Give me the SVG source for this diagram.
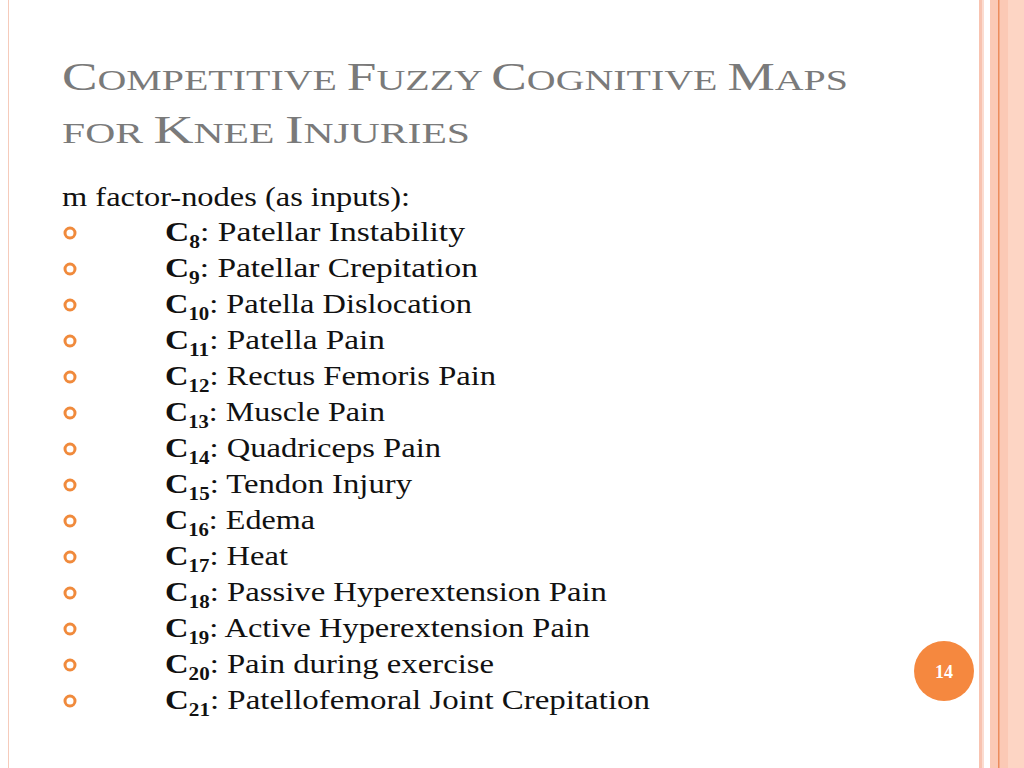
<svg xmlns="http://www.w3.org/2000/svg" width="1024" height="768" viewBox="0 0 1024 768">
<style>
.t{font-family:"Liberation Serif",serif;fill:#7a7a7a}
.b{font-family:"Liberation Serif",serif;font-size:28px;fill:#111}
.bl{fill:none;stroke:#f08a3c;stroke-width:3}
</style>
<rect width="1024" height="768" fill="#fff"/>
<rect x="8" y="0" width="1" height="768" fill="#f6cbbb"/>
<rect x="979" y="0" width="3" height="768" fill="#f8c3b0"/>
<rect x="982" y="0" width="2" height="768" fill="#fbdcd0"/>
<rect x="990" y="0" width="34" height="768" fill="#fbc9b5"/>
<rect x="998" y="0" width="1.5" height="768" fill="#ec8c5c"/>
<rect x="1008" y="0" width="16" height="768" fill="#fdd5c4"/>
<g id="title">
<text class="t" x="62" y="90" font-size="40" textLength="786" lengthAdjust="spacingAndGlyphs">C<tspan font-size="30">OMPETITIVE </tspan>F<tspan font-size="30">UZZY </tspan>C<tspan font-size="30">OGNITIVE </tspan>M<tspan font-size="30">APS</tspan></text>
<text class="t" x="62" y="143" font-size="30" textLength="408" lengthAdjust="spacingAndGlyphs">FOR <tspan font-size="40">K</tspan>NEE <tspan font-size="40">I</tspan>NJURIES</text>
</g>
<g id="body">
<text class="b" x="62" y="206" textLength="348" lengthAdjust="spacingAndGlyphs">m factor-nodes (as inputs):</text>
<g id="bullets">
<circle class="bl" cx="70" cy="233" r="5"/><circle class="bl" cx="70" cy="269" r="5"/><circle class="bl" cx="70" cy="305" r="5"/><circle class="bl" cx="70" cy="341" r="5"/><circle class="bl" cx="70" cy="377" r="5"/><circle class="bl" cx="70" cy="413" r="5"/><circle class="bl" cx="70" cy="449" r="5"/><circle class="bl" cx="70" cy="485" r="5"/><circle class="bl" cx="70" cy="521" r="5"/><circle class="bl" cx="70" cy="557" r="5"/><circle class="bl" cx="70" cy="593" r="5"/><circle class="bl" cx="70" cy="629" r="5"/><circle class="bl" cx="70" cy="665" r="5"/><circle class="bl" cx="70" cy="701" r="5"/>
</g>
<text class="b" x="165" y="241" textLength="300" lengthAdjust="spacingAndGlyphs"><tspan font-weight="bold">C<tspan font-size="18" dy="7">8</tspan></tspan><tspan dy="-7">: Patellar Instability</tspan></text>
<text class="b" x="165" y="277" textLength="313" lengthAdjust="spacingAndGlyphs"><tspan font-weight="bold">C<tspan font-size="18" dy="7">9</tspan></tspan><tspan dy="-7">: Patellar Crepitation</tspan></text>
<text class="b" x="165" y="313" textLength="307" lengthAdjust="spacingAndGlyphs"><tspan font-weight="bold">C<tspan font-size="18" dy="7">10</tspan></tspan><tspan dy="-7">: Patella Dislocation</tspan></text>
<text class="b" x="165" y="349" textLength="220" lengthAdjust="spacingAndGlyphs"><tspan font-weight="bold">C<tspan font-size="18" dy="7">11</tspan></tspan><tspan dy="-7">: Patella Pain</tspan></text>
<text class="b" x="165" y="385" textLength="331" lengthAdjust="spacingAndGlyphs"><tspan font-weight="bold">C<tspan font-size="18" dy="7">12</tspan></tspan><tspan dy="-7">: Rectus Femoris Pain</tspan></text>
<text class="b" x="165" y="421" textLength="220" lengthAdjust="spacingAndGlyphs"><tspan font-weight="bold">C<tspan font-size="18" dy="7">13</tspan></tspan><tspan dy="-7">: Muscle Pain</tspan></text>
<text class="b" x="165" y="457" textLength="276" lengthAdjust="spacingAndGlyphs"><tspan font-weight="bold">C<tspan font-size="18" dy="7">14</tspan></tspan><tspan dy="-7">: Quadriceps Pain</tspan></text>
<text class="b" x="165" y="493" textLength="247" lengthAdjust="spacingAndGlyphs"><tspan font-weight="bold">C<tspan font-size="18" dy="7">15</tspan></tspan><tspan dy="-7">: Tendon Injury</tspan></text>
<text class="b" x="165" y="529" textLength="150" lengthAdjust="spacingAndGlyphs"><tspan font-weight="bold">C<tspan font-size="18" dy="7">16</tspan></tspan><tspan dy="-7">: Edema</tspan></text>
<text class="b" x="165" y="565" textLength="123" lengthAdjust="spacingAndGlyphs"><tspan font-weight="bold">C<tspan font-size="18" dy="7">17</tspan></tspan><tspan dy="-7">: Heat</tspan></text>
<text class="b" x="165" y="601" textLength="442" lengthAdjust="spacingAndGlyphs"><tspan font-weight="bold">C<tspan font-size="18" dy="7">18</tspan></tspan><tspan dy="-7">: Passive Hyperextension Pain</tspan></text>
<text class="b" x="165" y="637" textLength="425" lengthAdjust="spacingAndGlyphs"><tspan font-weight="bold">C<tspan font-size="18" dy="7">19</tspan></tspan><tspan dy="-7">: Active Hyperextension Pain</tspan></text>
<text class="b" x="165" y="673" textLength="329" lengthAdjust="spacingAndGlyphs"><tspan font-weight="bold">C<tspan font-size="18" dy="7">20</tspan></tspan><tspan dy="-7">: Pain during exercise</tspan></text>
<text class="b" x="165" y="709" textLength="485" lengthAdjust="spacingAndGlyphs"><tspan font-weight="bold">C<tspan font-size="18" dy="7">21</tspan></tspan><tspan dy="-7">: Patellofemoral Joint Crepitation</tspan></text>
</g>
<g id="page">
<circle cx="944" cy="671" r="30" fill="#f5883f"/>
<text x="944" y="678" text-anchor="middle" font-family="Liberation Serif,serif" font-size="18" font-weight="bold" fill="#fff">14</text>
</g>
</svg>
